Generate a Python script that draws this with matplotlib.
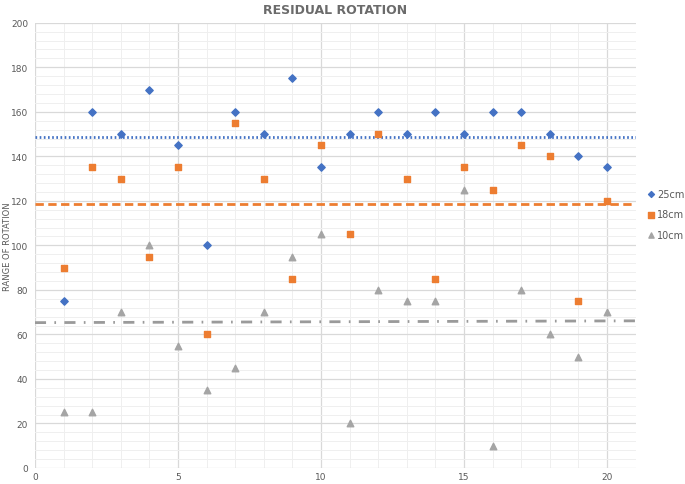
import matplotlib
matplotlib.use("Agg")
import matplotlib.pyplot as plt
from matplotlib.ticker import MultipleLocator

# sample index
x = list(range(1, 21))

# range of rotation per sample
r25 = [75, 160, 150, 170, 145, 100, 160, 150, 175, 135,
       150, 160, 150, 160, 150, 160, 160, 150, 140, 135]
r18 = [90, 135, 130, 95, 135, 60, 155, 130, 85, 145,
       105, 150, 130, 85, 135, 125, 145, 140, 75, 120]
r10 = [25, 25, 70, 100, 55, 35, 45, 70, 95, 105,
       20, 80, 75, 75, 125, 10, 80, 60, 50, 70]

# reference lines (start/end level across the plot)
line_x = [0, 21]
ref25 = [148.5, 148.5]
ref18 = [118.5, 118.5]
ref10 = [65.3, 66.1]

C25, C18, C10 = "#4472C4", "#ED7D31", "#A5A5A5"
TXT = "#595959"

fig = plt.figure(figsize=(6.85, 4.85), dpi=100)
ax = fig.add_axes([0.051, 0.033, 0.877, 0.918])

ax.plot(line_x, ref25, color=C25, lw=2.0, ls=(0, (0.6, 0.9)), zorder=2)
ax.plot(line_x, ref18, color=C18, lw=2.0, ls=(0, (3, 1.6)), zorder=2)
ax.plot(line_x, ref10, color="#9a9a9a", lw=2.0,
        ls=(0, (4, 3, 0.6, 3)), zorder=2)

ax.scatter(x, r25, marker="D", s=14, color=C25, label="25cm", zorder=3)
ax.scatter(x, r18, marker="s", s=24, color=C18, label="18cm", zorder=3)
ax.scatter(x, r10, marker="^", s=22, color=C10, label="10cm", zorder=3)

ax.set_xlim(0, 21)
ax.set_ylim(0, 200)
ax.xaxis.set_major_locator(MultipleLocator(5))
ax.xaxis.set_minor_locator(MultipleLocator(1))
ax.yaxis.set_major_locator(MultipleLocator(20))
ax.yaxis.set_minor_locator(MultipleLocator(4))
ax.grid(which="major", color="#d9d9d9", lw=0.9)
ax.grid(which="minor", color="#efefef", lw=0.7)
ax.set_axisbelow(True)
for s in ax.spines.values():
    s.set_visible(False)
ax.tick_params(which="both", length=0, labelsize=6.5, labelcolor=TXT)
ax.tick_params(axis="x", pad=3)
ax.tick_params(axis="y", pad=5)

ax.set_ylabel("RANGE OF ROTATION", fontsize=6, color=TXT)
ax.yaxis.set_label_coords(-0.039, 0.5)
ax.set_title("RESIDUAL ROTATION", fontsize=9, fontweight="bold", color="#6b6b6b",
             pad=7)

ax.legend(loc="center left", bbox_to_anchor=(1.0, 0.57), frameon=False,
          fontsize=7, labelcolor=TXT, handletextpad=0.0, labelspacing=1.1,
          markerscale=0.8, borderaxespad=0.6, handlelength=1.2)

fig.savefig("out.png", dpi=100)
